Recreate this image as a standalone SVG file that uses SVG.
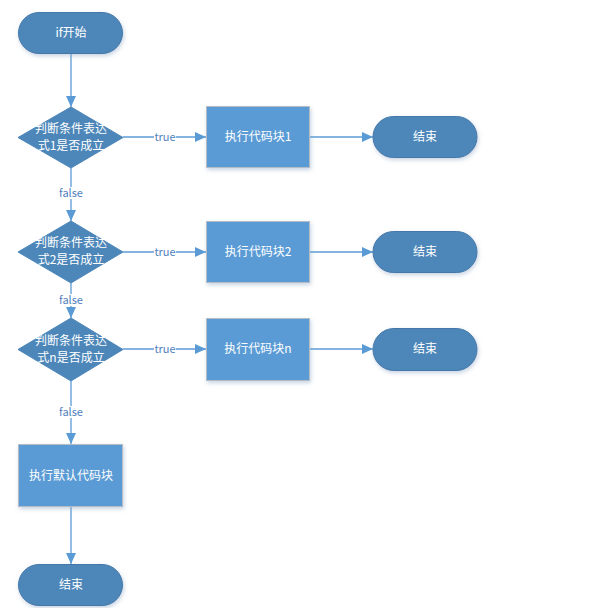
<svg xmlns="http://www.w3.org/2000/svg" width="590" height="608" viewBox="0 0 590 608">
<style>
.term{fill:#4d87ba;stroke:#4478a8;stroke-width:1}
.proc{fill:#5a9bd5;stroke:#b4bcc6;stroke-width:1}
.dec{fill:#4d87ba;stroke:#4d87ba;stroke-width:1}
.t{font-family:"Noto Sans CJK SC","Microsoft YaHei",sans-serif;font-size:12px;fill:#ffffff;text-anchor:middle}
.c{stroke:#5b9bd5;stroke-width:1.3;fill:none;marker-end:url(#ah)}
.lbl{font-family:"Noto Sans CJK SC",sans-serif;font-size:11px;fill:#4f81bd;text-anchor:middle}
.lb{fill:#ffffff}
</style>
<defs>
<marker id="ah" markerWidth="12" markerHeight="10" refX="11" refY="5" orient="auto" markerUnits="userSpaceOnUse">
<path d="M0,0 L11,5 L0,10 Z" fill="#5b9bd5"/>
</marker>
<filter id="sh" x="-10%" y="-10%" width="130%" height="140%">
<feDropShadow dx="1" dy="2" stdDeviation="2" flood-color="#8fa8c8" flood-opacity="0.5"/>
</filter>
</defs>
<rect width="590" height="608" fill="#ffffff"/>
<g id="connectors">
<line class="c" x1="71" y1="54" x2="71" y2="107"/>
<line class="c" x1="123" y1="137" x2="206" y2="137"/>
<line class="c" x1="310" y1="137" x2="373" y2="137"/>
<line class="c" x1="71" y1="168" x2="71" y2="221"/>
<line class="c" x1="123" y1="252" x2="206" y2="252"/>
<line class="c" x1="310" y1="252" x2="373" y2="252"/>
<line class="c" x1="71" y1="283" x2="71" y2="318"/>
<line class="c" x1="123" y1="349" x2="206" y2="349"/>
<line class="c" x1="310" y1="349" x2="373" y2="349"/>
<line class="c" x1="71" y1="381" x2="71" y2="444"/>
<line class="c" x1="71" y1="507" x2="71" y2="564"/>
<rect class="lb" x="154" y="131" width="22" height="12"/>
<text class="lbl" x="165" y="141">true</text>
<rect class="lb" x="154" y="246" width="22" height="12"/>
<text class="lbl" x="165" y="256">true</text>
<rect class="lb" x="154" y="343" width="22" height="12"/>
<text class="lbl" x="165" y="353">true</text>
<rect class="lb" x="59" y="187" width="24" height="12"/>
<text class="lbl" x="71" y="197">false</text>
<rect class="lb" x="59" y="294" width="24" height="12"/>
<text class="lbl" x="71" y="304">false</text>
<rect class="lb" x="59" y="406" width="24" height="12"/>
<text class="lbl" x="71" y="416">false</text>
</g>
<g id="start">
<rect class="term" x="18.5" y="12.5" width="104" height="41" rx="20.5" filter="url(#sh)"/>
<text class="t" x="71" y="37">if开始</text>
</g>
<g id="cond1">
<polygon class="dec" points="71,107 123,137.5 71,168 18,137.5"/>
<text class="t" x="71" y="133">判断条件表达</text>
<text class="t" x="71" y="150">式1是否成立</text>
</g>
<g id="block1">
<rect class="proc" x="206.5" y="106.5" width="103" height="61" filter="url(#sh)"/>
<text class="t" x="258" y="141">执行代码块1</text>
</g>
<g id="end1">
<rect class="term" x="373" y="116.5" width="104" height="41" rx="20.5" filter="url(#sh)"/>
<text class="t" x="425" y="141">结束</text>
</g>
<g id="cond2">
<polygon class="dec" points="71,221 123,252 71,283 18,252"/>
<text class="t" x="71" y="247">判断条件表达</text>
<text class="t" x="71" y="264">式2是否成立</text>
</g>
<g id="block2">
<rect class="proc" x="206.5" y="221.5" width="103" height="61" filter="url(#sh)"/>
<text class="t" x="258" y="256">执行代码块2</text>
</g>
<g id="end2">
<rect class="term" x="373" y="231.5" width="104" height="41" rx="20.5" filter="url(#sh)"/>
<text class="t" x="425" y="256">结束</text>
</g>
<g id="condn">
<polygon class="dec" points="71,318 123,349.5 71,381 18,349.5"/>
<text class="t" x="71" y="345">判断条件表达</text>
<text class="t" x="71" y="362">式n是否成立</text>
</g>
<g id="blockn">
<rect class="proc" x="206.5" y="318.5" width="103" height="62" filter="url(#sh)"/>
<text class="t" x="258" y="353">执行代码块n</text>
</g>
<g id="endn">
<rect class="term" x="373" y="328.5" width="104" height="42" rx="21" filter="url(#sh)"/>
<text class="t" x="425" y="353">结束</text>
</g>
<g id="default">
<rect class="proc" x="18.5" y="444.5" width="104" height="62" filter="url(#sh)"/>
<text class="t" x="71" y="480">执行默认代码块</text>
</g>
<g id="end">
<rect class="term" x="18.5" y="564.5" width="104" height="41" rx="20.5" filter="url(#sh)"/>
<text class="t" x="71" y="589">结束</text>
</g>
</svg>
